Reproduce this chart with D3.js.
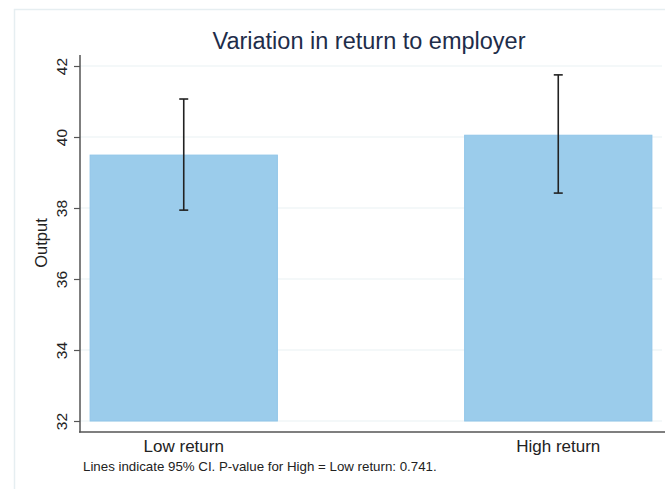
<!DOCTYPE html>
<html lang="en">
<head>
  <meta charset="utf-8">
  <title>Variation in return to employer</title>
  <style>
    body { margin: 0; background: #fff; font-family: "Liberation Sans", Arial, sans-serif; }
    svg { display: block; }
  </style>
</head>
<body>
  <svg id="chart"></svg>

  <script src="https://d3js.org/d3.v7.min.js"></script>
  <script>
    // data
    const groups = ["Low return", "High return"];
    const means = [39.49, 40.05];
    const ciLow = [37.94, 38.42];
    const ciHigh = [41.07, 41.75];
    const yTicks = [32, 34, 36, 38, 40, 42];

    const width = 665;
    const height = 489;

    const svg = d3.select("#chart")
      .attr("width", width)
      .attr("height", height);

    // light outer frame of the graph region
    svg.append("rect")
      .attr("x", 14.5)
      .attr("y", 9.5)
      .attr("width", 700)
      .attr("height", 500)
      .attr("fill", "none")
      .attr("stroke", "#e6eef1")
      .attr("stroke-width", 1.5);

    const x = d3.scaleBand()
      .domain(groups)
      .range([80, 662])
      .paddingInner(0.5)
      .paddingOuter(0.027);

    const y = d3.scaleLinear()
      .domain([32, 42])
      .range([421, 66]);

    // gridlines
    svg.append("g")
      .selectAll("line")
      .data(yTicks)
      .join("line")
      .attr("x1", 80)
      .attr("x2", 662)
      .attr("y1", d => y(d))
      .attr("y2", d => y(d))
      .attr("stroke", "#e9f1f3")
      .attr("stroke-width", 1.2);

    // bars
    svg.append("g")
      .selectAll("rect")
      .data(groups)
      .join("rect")
      .attr("x", d => x(d))
      .attr("width", x.bandwidth())
      .attr("y", (d, i) => y(means[i]))
      .attr("height", (d, i) => y(32) - y(means[i]))
      .attr("fill", "#9bcceb")
      .attr("stroke", "#90c5e8")
      .attr("stroke-width", 1);

    // confidence interval lines
    const ci = svg.append("g")
      .attr("stroke", "#222")
      .attr("stroke-width", 1.6);

    groups.forEach((g, i) => {
      const cx = x(g) + x.bandwidth() / 2;
      ci.append("line")
        .attr("x1", cx).attr("x2", cx)
        .attr("y1", y(ciLow[i])).attr("y2", y(ciHigh[i]));
      [ciLow[i], ciHigh[i]].forEach(v => {
        ci.append("line")
          .attr("x1", cx - 4.5).attr("x2", cx + 4.5)
          .attr("y1", y(v)).attr("y2", y(v));
      });
    });

    // y axis
    const yAxis = svg.append("g")
      .attr("transform", "translate(80,0)")
      .call(d3.axisLeft(y).tickValues(yTicks).tickSize(6).tickSizeOuter(0).tickFormat(d3.format("d")));

    yAxis.select(".domain").remove();
    yAxis.selectAll(".tick line").attr("stroke", "#555").attr("stroke-width", 1.2);
    yAxis.selectAll(".tick text")
      .attr("transform", "rotate(-90)")
      .attr("x", 0)
      .attr("y", -13)
      .attr("dy", 0)
      .attr("text-anchor", "middle")
      .attr("font-family", "Liberation Sans, Arial, sans-serif")
      .attr("font-size", 15.5)
      .attr("fill", "#222");

    svg.append("line")
      .attr("x1", 80).attr("x2", 80)
      .attr("y1", 55).attr("y2", 432.5)
      .attr("stroke", "#555")
      .attr("stroke-width", 1.5);

    // x axis
    svg.append("line")
      .attr("x1", 79).attr("x2", 665)
      .attr("y1", 432).attr("y2", 432)
      .attr("stroke", "#555")
      .attr("stroke-width", 1.5);

    svg.append("g")
      .selectAll("text")
      .data(groups)
      .join("text")
      .attr("x", d => x(d) + x.bandwidth() / 2)
      .attr("y", 451.5)
      .attr("text-anchor", "middle")
      .attr("font-size", 17)
      .attr("fill", "#222")
      .text(d => d);

    // y axis title
    svg.append("text")
      .attr("transform", "translate(47,243) rotate(-90)")
      .attr("text-anchor", "middle")
      .attr("font-size", 16.5)
      .attr("fill", "#222")
      .text("Output");

    // title
    svg.append("text")
      .attr("x", 369)
      .attr("y", 49)
      .attr("text-anchor", "middle")
      .attr("font-size", 23.5)
      .attr("fill", "#1e2d4a")
      .text("Variation in return to employer");

    // note
    svg.append("text")
      .attr("x", 83)
      .attr("y", 470.5)
      .attr("font-size", 13.3)
      .attr("fill", "#222")
      .text("Lines indicate 95% CI. P-value for High = Low return: 0.741.");
  </script>
</body>
</html>
